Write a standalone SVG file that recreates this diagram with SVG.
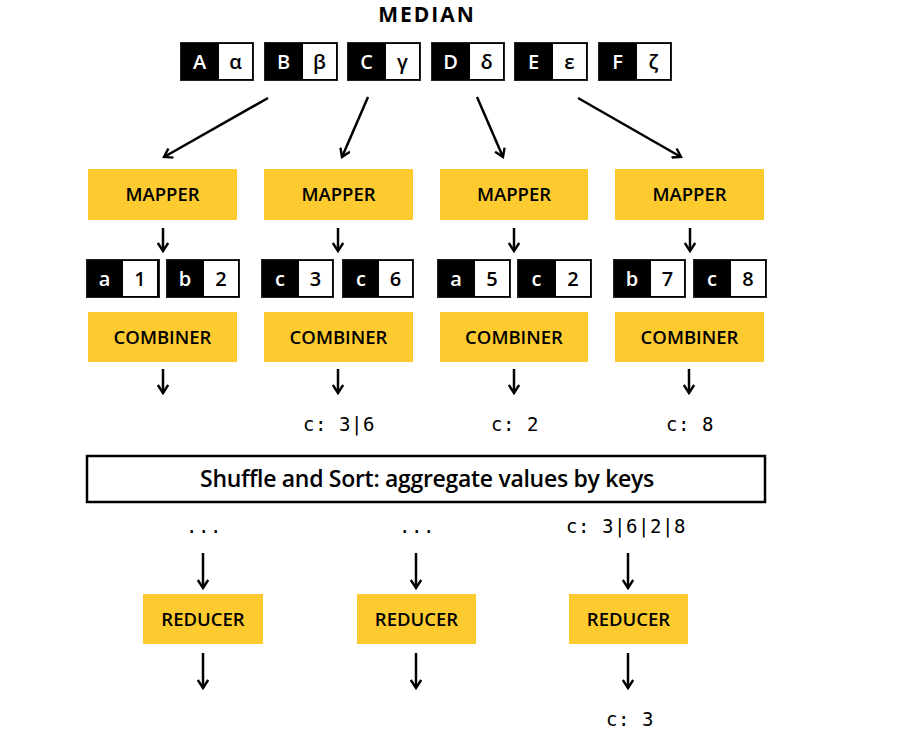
<svg xmlns="http://www.w3.org/2000/svg" width="906" height="736" viewBox="0 0 906 736">
<style>
.bg{fill:#ffffff}
.y{fill:#FDCB30}
.lbl{font-family:"Open Sans","Noto Sans",sans-serif;font-weight:600;font-size:18.5px;fill:#000;text-anchor:middle}
.k{fill:#000;stroke:#222;stroke-width:1}
.v{fill:#fff}
.kt{font-family:"Open Sans","Noto Sans",sans-serif;font-weight:600;font-size:20px;fill:#fff;text-anchor:middle}
.vt{font-family:"Open Sans","Noto Sans",sans-serif;font-weight:600;font-size:20px;fill:#000;text-anchor:middle}
.mono{font-family:"DejaVu Sans Mono","Liberation Mono",monospace;font-size:19px;letter-spacing:0.55px;fill:#000;text-anchor:middle}
.title{font-family:"Open Sans","Noto Sans",sans-serif;font-weight:700;font-size:21px;letter-spacing:2px;fill:#000;text-anchor:middle}
.shuf{font-family:"Open Sans","Noto Sans",sans-serif;font-weight:600;font-size:23px;letter-spacing:-0.3px;fill:#000;text-anchor:middle}
.c{stroke:#000;stroke-width:2.5;fill:none;marker-end:url(#ah)}
</style>
<defs>
<marker id="ah" viewBox="0 0 12 12" refX="9" refY="6" markerWidth="12" markerHeight="12" markerUnits="userSpaceOnUse" orient="auto">
<path d="M1,0.8 L9,6 L1,11.2" fill="none" stroke="#000" stroke-width="2.4"/>
</marker>
</defs>
<rect class="bg" x="0" y="0" width="906" height="736"/>

<g id="title"><text class="title" x="427" y="22">MEDIAN</text></g>

<g id="input">
<g id="pA"><rect class="k" x="180.5" y="42.5" width="73" height="38"/><rect class="v" x="219" y="44" width="33" height="35"/><text class="kt" x="199.5" y="69">A</text><text class="vt" x="235.5" y="69">α</text></g>
<g id="pB"><rect class="k" x="264.5" y="42.5" width="73" height="38"/><rect class="v" x="303" y="44" width="33" height="35"/><text class="kt" x="283.5" y="69">B</text><text class="vt" x="319.5" y="69">β</text></g>
<g id="pC"><rect class="k" x="347.5" y="42.5" width="73" height="38"/><rect class="v" x="386" y="44" width="33" height="35"/><text class="kt" x="366.5" y="69">C</text><text class="vt" x="402.5" y="69">γ</text></g>
<g id="pD"><rect class="k" x="431.5" y="42.5" width="73" height="38"/><rect class="v" x="470" y="44" width="33" height="35"/><text class="kt" x="450.5" y="69">D</text><text class="vt" x="486.5" y="69">δ</text></g>
<g id="pE"><rect class="k" x="514.5" y="42.5" width="73" height="38"/><rect class="v" x="553" y="44" width="33" height="35"/><text class="kt" x="533.5" y="69">E</text><text class="vt" x="569.5" y="69">ε</text></g>
<g id="pF"><rect class="k" x="598.5" y="42.5" width="73" height="38"/><rect class="v" x="637" y="44" width="33" height="35"/><text class="kt" x="617.5" y="69">F</text><text class="vt" x="653.5" y="69">ζ</text></g>
</g>

<g id="mapper1"><rect class="y" x="88" y="169" width="149" height="51"/><text class="lbl" x="162.5" y="201">MAPPER</text></g>
<g id="mapper2"><rect class="y" x="264" y="169" width="149" height="51"/><text class="lbl" x="338.5" y="201">MAPPER</text></g>
<g id="mapper3"><rect class="y" x="440" y="169" width="148" height="51"/><text class="lbl" x="514" y="201">MAPPER</text></g>
<g id="mapper4"><rect class="y" x="615" y="169" width="149" height="51"/><text class="lbl" x="689.5" y="201">MAPPER</text></g>

<g id="pairs">
<g id="a1"><rect class="k" x="86.5" y="259.5" width="73" height="38"/><rect class="v" x="123" y="261" width="34" height="35"/><text class="kt" x="104.5" y="286">a</text><text class="vt" x="140" y="286">1</text></g>
<g id="b2"><rect class="k" x="166.5" y="259.5" width="73" height="38"/><rect class="v" x="204" y="261" width="34" height="35"/><text class="kt" x="185" y="286">b</text><text class="vt" x="221" y="286">2</text></g>
<g id="c3"><rect class="k" x="261.5" y="259.5" width="72" height="38"/><rect class="v" x="299" y="261" width="33" height="35"/><text class="kt" x="280" y="286">c</text><text class="vt" x="315.5" y="286">3</text></g>
<g id="c6"><rect class="k" x="342.5" y="259.5" width="71" height="38"/><rect class="v" x="379" y="261" width="33" height="35"/><text class="kt" x="361" y="286">c</text><text class="vt" x="395.5" y="286">6</text></g>
<g id="a5"><rect class="k" x="437.5" y="259.5" width="73" height="38"/><rect class="v" x="475" y="261" width="34" height="35"/><text class="kt" x="456" y="286">a</text><text class="vt" x="492" y="286">5</text></g>
<g id="c2"><rect class="k" x="517.5" y="259.5" width="74" height="38"/><rect class="v" x="556" y="261" width="34" height="35"/><text class="kt" x="536.5" y="286">c</text><text class="vt" x="573" y="286">2</text></g>
<g id="b7"><rect class="k" x="613.5" y="259.5" width="72" height="38"/><rect class="v" x="651" y="261" width="33" height="35"/><text class="kt" x="632" y="286">b</text><text class="vt" x="667.5" y="286">7</text></g>
<g id="c8"><rect class="k" x="693.5" y="259.5" width="73" height="38"/><rect class="v" x="731" y="261" width="34" height="35"/><text class="kt" x="712" y="286">c</text><text class="vt" x="748" y="286">8</text></g>
</g>

<g id="combiner1"><rect class="y" x="88" y="312" width="149" height="50"/><text class="lbl" x="162.5" y="344">COMBINER</text></g>
<g id="combiner2"><rect class="y" x="264" y="312" width="149" height="50"/><text class="lbl" x="338.5" y="344">COMBINER</text></g>
<g id="combiner3"><rect class="y" x="440" y="312" width="148" height="50"/><text class="lbl" x="514" y="344">COMBINER</text></g>
<g id="combiner4"><rect class="y" x="615" y="312" width="149" height="50"/><text class="lbl" x="689.5" y="344">COMBINER</text></g>

<g id="out2"><text class="mono" x="339" y="431">c: 3|6</text></g>
<g id="out3"><text class="mono" x="515" y="431">c: 2</text></g>
<g id="out4"><text class="mono" x="690" y="431">c: 8</text></g>

<g id="shuffle"><rect x="87" y="456" width="678" height="46" fill="#fff" stroke="#000" stroke-width="2.5"/><text class="shuf" x="427" y="487">Shuffle and Sort: aggregate values by keys</text></g>

<g id="in1"><text class="mono" x="204" y="533">...</text></g>
<g id="in2"><text class="mono" x="417" y="533">...</text></g>
<g id="in3"><text class="mono" x="626" y="533">c: 3|6|2|8</text></g>

<g id="reducer1"><rect class="y" x="143" y="594" width="120" height="50"/><text class="lbl" x="203" y="626">REDUCER</text></g>
<g id="reducer2"><rect class="y" x="357" y="594" width="119" height="50"/><text class="lbl" x="416.5" y="626">REDUCER</text></g>
<g id="reducer3"><rect class="y" x="569" y="594" width="119" height="50"/><text class="lbl" x="628.5" y="626">REDUCER</text></g>

<g id="result"><text class="mono" x="630" y="726">c: 3</text></g>

<g id="connectors">
<line class="c" x1="268" y1="98" x2="164" y2="157"/>
<line class="c" x1="368" y1="97" x2="342" y2="157"/>
<line class="c" x1="477" y1="97" x2="503" y2="157"/>
<line class="c" x1="578" y1="98" x2="681" y2="157"/>
<line class="c" x1="163" y1="228" x2="163" y2="251"/>
<line class="c" x1="338" y1="228" x2="338" y2="251"/>
<line class="c" x1="514" y1="228" x2="514" y2="251"/>
<line class="c" x1="690" y1="228" x2="690" y2="251"/>
<line class="c" x1="163" y1="369" x2="163" y2="393"/>
<line class="c" x1="338" y1="369" x2="338" y2="393"/>
<line class="c" x1="514" y1="369" x2="514" y2="393"/>
<line class="c" x1="689" y1="369" x2="689" y2="393"/>
<line class="c" x1="203" y1="553" x2="203" y2="588"/>
<line class="c" x1="416" y1="553" x2="416" y2="588"/>
<line class="c" x1="628" y1="553" x2="628" y2="588"/>
<line class="c" x1="203" y1="653" x2="203" y2="688"/>
<line class="c" x1="416" y1="653" x2="416" y2="688"/>
<line class="c" x1="628" y1="653" x2="628" y2="688"/>
</g>
</svg>
